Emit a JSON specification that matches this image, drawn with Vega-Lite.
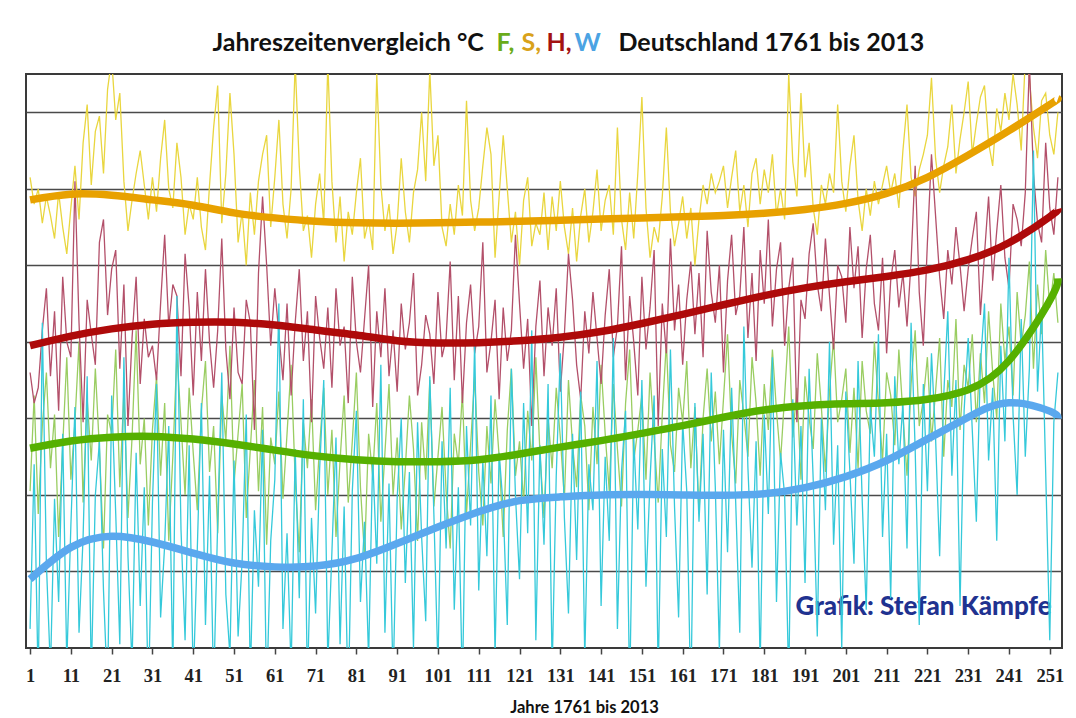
{
"$schema": "https://vega.github.io/schema/vega-lite/v6.json",
"width": 1036, "height": 574,
"autosize": {"type": "none"},
"padding": {"left": 26, "top": 74, "right": 14, "bottom": 70},
"background": "white",
"config": {"view": {"stroke": "#3a3a3a", "strokeWidth": 2}},
"resolve": {"axis": {"x": "independent", "y": "independent"}},
"datasets": {
"jahre": [
{"j":1,"F":2.1,"S":10.3,"H":5.2,"W":-1.5},{"j":2,"F":4.6,"S":9.6,"H":4.4,"W":2.8},{"j":3,"F":1.5,"S":10.0,"H":4.8,"W":-3.0},{"j":4,"F":3.8,"S":9.1,"H":6.3,"W":6.5},{"j":5,"F":5.2,"S":9.8,"H":7.4,"W":0.2},{"j":6,"F":2.7,"S":9.3,"H":5.1,"W":-2.6},{"j":7,"F":4.1,"S":8.7,"H":6.8,"W":1.9},{"j":8,"F":0.9,"S":9.9,"H":4.2,"W":-0.8},{"j":9,"F":3.3,"S":9.0,"H":7.7,"W":3.6},{"j":10,"F":5.6,"S":8.3,"H":6.0,"W":-2.4},
{"j":11,"F":2.4,"S":9.5,"H":5.6,"W":1.2},{"j":12,"F":3.9,"S":10.6,"H":10.2,"W":4.3},{"j":13,"F":6.0,"S":9.2,"H":6.5,"W":-1.6},{"j":14,"F":1.8,"S":11.2,"H":3.9,"W":0.9},{"j":15,"F":4.5,"S":12.2,"H":7.1,"W":5.1},{"j":16,"F":2.9,"S":10.1,"H":6.2,"W":-2.8},{"j":17,"F":5.3,"S":11.5,"H":5.4,"W":2.0},{"j":18,"F":3.2,"S":11.9,"H":8.6,"W":3.4},{"j":19,"F":0.6,"S":10.4,"H":9.2,"W":-0.5},{"j":20,"F":4.1,"S":12.6,"H":6.7,"W":-3.2},
{"j":21,"F":3.6,"S":13.4,"H":7.9,"W":4.6},{"j":22,"F":5.8,"S":11.8,"H":8.4,"W":1.5},{"j":23,"F":2.2,"S":12.5,"H":5.3,"W":-1.9},{"j":24,"F":4.7,"S":10.2,"H":7.5,"W":5.6},{"j":25,"F":1.4,"S":8.9,"H":3.8,"W":0.4},{"j":26,"F":3.5,"S":9.7,"H":6.1,"W":-2.5},{"j":27,"F":6.3,"S":10.4,"H":7.7,"W":3.1},{"j":28,"F":2.8,"S":11.0,"H":4.9,"W":-0.9},{"j":29,"F":4.0,"S":10.1,"H":6.6,"W":2.2},{"j":30,"F":1.2,"S":9.2,"H":5.6,"W":-3.4},
{"j":31,"F":3.7,"S":10.3,"H":5.9,"W":1.8},{"j":32,"F":5.1,"S":9.4,"H":5.0,"W":4.9},{"j":33,"F":2.5,"S":10.8,"H":7.0,"W":-1.2},{"j":34,"F":4.4,"S":11.8,"H":8.8,"W":0.7},{"j":35,"F":0.8,"S":10.0,"H":6.4,"W":3.8},{"j":36,"F":3.0,"S":9.5,"H":7.5,"W":-2.7},{"j":37,"F":5.7,"S":11.2,"H":7.2,"W":7.2},{"j":38,"F":3.9,"S":10.3,"H":5.1,"W":1.1},{"j":39,"F":2.0,"S":8.8,"H":8.3,"W":-1.8},{"j":40,"F":4.8,"S":9.6,"H":6.9,"W":3.3},
{"j":41,"F":3.1,"S":9.2,"H":4.6,"W":-2.9},{"j":42,"F":1.6,"S":10.3,"H":7.3,"W":0.6},{"j":43,"F":4.2,"S":9.0,"H":5.5,"W":4.4},{"j":44,"F":5.5,"S":8.4,"H":7.9,"W":-1.4},{"j":45,"F":2.6,"S":10.1,"H":6.0,"W":2.5},{"j":46,"F":3.8,"S":11.6,"H":4.8,"W":-3.1},{"j":47,"F":1.0,"S":12.7,"H":6.3,"W":1.3},{"j":48,"F":4.6,"S":9.1,"H":8.7,"W":5.2},{"j":49,"F":3.4,"S":10.4,"H":5.8,"W":-0.6},{"j":50,"F":5.9,"S":12.5,"H":4.5,"W":-2.2},
{"j":51,"F":2.3,"S":10.9,"H":6.9,"W":2.9},{"j":52,"F":3.6,"S":8.6,"H":5.2,"W":-1.7},{"j":53,"F":4.9,"S":9.4,"H":4.9,"W":0.3},{"j":54,"F":1.4,"S":8.0,"H":7.1,"W":4.1},{"j":55,"F":3.2,"S":9.9,"H":6.5,"W":-2.8},{"j":56,"F":5.0,"S":8.8,"H":3.7,"W":1.6},{"j":57,"F":2.1,"S":10.2,"H":7.8,"W":-0.4},{"j":58,"F":4.3,"S":10.9,"H":9.8,"W":3.7},{"j":59,"F":0.7,"S":11.4,"H":8.0,"W":-3.3},{"j":60,"F":3.5,"S":9.0,"H":5.9,"W":0.8},
{"j":61,"F":2.8,"S":10.3,"H":7.4,"W":2.4},{"j":62,"F":4.7,"S":11.8,"H":6.2,"W":7.0},{"j":63,"F":1.9,"S":9.6,"H":5.0,"W":-1.5},{"j":64,"F":3.6,"S":8.7,"H":7.0,"W":1.0},{"j":65,"F":5.4,"S":10.0,"H":4.6,"W":-2.6},{"j":66,"F":2.4,"S":13.3,"H":6.5,"W":3.2},{"j":67,"F":0.5,"S":10.6,"H":7.9,"W":-0.7},{"j":68,"F":3.9,"S":8.9,"H":5.5,"W":4.5},{"j":69,"F":2.7,"S":9.3,"H":6.8,"W":-3.0},{"j":70,"F":4.5,"S":8.2,"H":3.9,"W":1.4},
{"j":71,"F":1.6,"S":9.6,"H":7.2,"W":-1.1},{"j":72,"F":3.3,"S":10.4,"H":6.1,"W":2.7},{"j":73,"F":4.8,"S":9.1,"H":5.3,"W":5.0},{"j":74,"F":2.0,"S":13.3,"H":6.9,"W":-2.4},{"j":75,"F":3.7,"S":10.2,"H":4.8,"W":0.5},{"j":76,"F":0.9,"S":8.6,"H":7.4,"W":3.5},{"j":77,"F":2.9,"S":9.8,"H":5.9,"W":-1.9},{"j":78,"F":4.6,"S":8.1,"H":6.4,"W":1.7},{"j":79,"F":1.8,"S":9.4,"H":4.4,"W":-3.5},{"j":80,"F":3.4,"S":8.8,"H":7.7,"W":2.1},
{"j":81,"F":5.2,"S":9.9,"H":6.0,"W":4.2},{"j":82,"F":2.2,"S":10.8,"H":5.2,"W":-0.8},{"j":83,"F":0.4,"S":8.7,"H":6.6,"W":1.3},{"j":84,"F":3.6,"S":9.2,"H":8.0,"W":-2.3},{"j":85,"F":2.5,"S":8.4,"H":4.3,"W":3.0},{"j":86,"F":4.4,"S":13.0,"H":6.8,"W":0.2},{"j":87,"F":1.3,"S":10.1,"H":5.6,"W":5.4},{"j":88,"F":3.1,"S":8.9,"H":7.4,"W":-1.6},{"j":89,"F":4.9,"S":9.6,"H":5.1,"W":2.3},{"j":90,"F":2.0,"S":8.3,"H":6.3,"W":-2.9},
{"j":91,"F":3.5,"S":9.1,"H":4.7,"W":1.9},{"j":92,"F":1.1,"S":10.8,"H":7.0,"W":4.0},{"j":93,"F":2.7,"S":9.4,"H":5.8,"W":-0.3},{"j":94,"F":4.6,"S":8.6,"H":6.5,"W":2.6},{"j":95,"F":3.2,"S":9.9,"H":7.8,"W":-2.0},{"j":96,"F":0.8,"S":10.5,"H":4.6,"W":3.9},{"j":97,"F":3.9,"S":12.0,"H":5.4,"W":0.9},{"j":98,"F":2.4,"S":10.2,"H":6.7,"W":-1.3},{"j":99,"F":5.0,"S":13.1,"H":6.2,"W":5.1},{"j":100,"F":1.7,"S":10.6,"H":4.9,"W":1.5},
{"j":101,"F":3.0,"S":11.4,"H":7.3,"W":-2.5},{"j":102,"F":4.3,"S":9.0,"H":5.6,"W":3.4},{"j":103,"F":2.1,"S":8.5,"H":6.1,"W":0.6},{"j":104,"F":0.6,"S":9.6,"H":8.1,"W":4.8},{"j":105,"F":3.6,"S":8.8,"H":5.0,"W":-1.0},{"j":106,"F":2.8,"S":10.1,"H":7.2,"W":2.2},{"j":107,"F":4.7,"S":9.3,"H":4.4,"W":-3.1},{"j":108,"F":1.5,"S":12.3,"H":6.5,"W":3.8},{"j":109,"F":3.3,"S":9.7,"H":7.5,"W":1.2},{"j":110,"F":5.1,"S":8.9,"H":5.7,"W":6.0},
{"j":111,"F":2.6,"S":9.5,"H":6.4,"W":-0.5},{"j":112,"F":1.2,"S":10.6,"H":8.6,"W":2.9},{"j":113,"F":3.8,"S":11.6,"H":5.2,"W":0.4},{"j":114,"F":2.3,"S":10.9,"H":6.0,"W":4.6},{"j":115,"F":4.5,"S":8.2,"H":7.1,"W":-2.2},{"j":116,"F":3.0,"S":9.8,"H":4.5,"W":3.1},{"j":117,"F":0.9,"S":11.4,"H":6.9,"W":1.7},{"j":118,"F":3.7,"S":10.0,"H":5.5,"W":-1.4},{"j":119,"F":5.3,"S":8.6,"H":6.3,"W":5.3},{"j":120,"F":2.5,"S":9.4,"H":8.8,"W":2.0},
{"j":121,"F":3.4,"S":8.0,"H":7.0,"W":-0.2},{"j":122,"F":1.8,"S":9.7,"H":5.3,"W":4.4},{"j":123,"F":4.2,"S":10.3,"H":6.6,"W":1.0},{"j":124,"F":2.9,"S":8.5,"H":3.8,"W":6.3},{"j":125,"F":5.6,"S":9.1,"H":6.4,"W":-1.8},{"j":126,"F":3.1,"S":8.8,"H":7.6,"W":3.3},{"j":127,"F":1.4,"S":9.9,"H":5.1,"W":0.7},{"j":128,"F":4.0,"S":8.4,"H":6.9,"W":4.9},{"j":129,"F":2.7,"S":9.8,"H":5.9,"W":-2.6},{"j":130,"F":4.8,"S":8.9,"H":7.4,"W":2.5},
{"j":131,"F":3.5,"S":10.2,"H":4.7,"W":5.7},{"j":132,"F":1.9,"S":9.0,"H":6.2,"W":1.4},{"j":133,"F":5.0,"S":8.3,"H":8.3,"W":-1.1},{"j":134,"F":3.3,"S":9.5,"H":7.1,"W":3.6},{"j":135,"F":2.2,"S":8.1,"H":5.4,"W":0.3},{"j":136,"F":4.6,"S":9.3,"H":4.5,"W":4.7},{"j":137,"F":3.8,"S":10.0,"H":6.8,"W":-2.3},{"j":138,"F":1.6,"S":8.6,"H":5.7,"W":2.8},{"j":139,"F":4.3,"S":9.4,"H":7.3,"W":1.6},{"j":140,"F":2.8,"S":10.5,"H":6.1,"W":5.5},
{"j":141,"F":5.4,"S":8.9,"H":4.9,"W":-0.9},{"j":142,"F":3.6,"S":9.7,"H":6.7,"W":3.0},{"j":143,"F":2.1,"S":10.1,"H":7.9,"W":0.8},{"j":144,"F":4.9,"S":8.8,"H":5.6,"W":6.1},{"j":145,"F":3.2,"S":11.6,"H":6.4,"W":-1.5},{"j":146,"F":1.7,"S":9.2,"H":8.5,"W":2.6},{"j":147,"F":4.4,"S":8.4,"H":5.0,"W":4.2},{"j":148,"F":5.8,"S":9.9,"H":7.2,"W":-3.2},{"j":149,"F":2.9,"S":8.7,"H":6.0,"W":3.5},{"j":150,"F":3.7,"S":10.4,"H":4.6,"W":1.1},
{"j":151,"F":4.6,"S":12.4,"H":7.7,"W":5.0},{"j":152,"F":2.4,"S":9.5,"H":5.8,"W":-0.4},{"j":153,"F":5.2,"S":8.2,"H":6.9,"W":2.4},{"j":154,"F":3.5,"S":9.0,"H":8.4,"W":4.6},{"j":155,"F":1.8,"S":8.6,"H":3.8,"W":-2.7},{"j":156,"F":4.1,"S":9.8,"H":7.0,"W":3.2},{"j":157,"F":6.0,"S":11.6,"H":5.7,"W":0.9},{"j":158,"F":3.3,"S":9.4,"H":8.7,"W":5.8},{"j":159,"F":2.6,"S":8.5,"H":6.3,"W":1.7},{"j":160,"F":4.8,"S":9.1,"H":7.5,"W":-1.2},
{"j":161,"F":3.9,"S":9.8,"H":5.4,"W":3.9},{"j":162,"F":5.5,"S":8.7,"H":7.1,"W":2.1},{"j":163,"F":2.7,"S":9.5,"H":8.1,"W":-3.4},{"j":164,"F":4.3,"S":8.0,"H":6.2,"W":4.4},{"j":165,"F":1.5,"S":9.2,"H":7.8,"W":1.3},{"j":166,"F":4.0,"S":10.1,"H":5.6,"W":3.6},{"j":167,"F":5.3,"S":9.6,"H":8.9,"W":-0.6},{"j":168,"F":3.4,"S":10.4,"H":7.3,"W":5.2},{"j":169,"F":4.7,"S":9.9,"H":6.5,"W":2.2},{"j":170,"F":2.8,"S":10.2,"H":8.0,"W":-2.1},
{"j":171,"F":4.5,"S":10.6,"H":5.2,"W":3.7},{"j":172,"F":6.2,"S":9.5,"H":7.6,"W":0.5},{"j":173,"F":3.6,"S":10.3,"H":8.8,"W":4.8},{"j":174,"F":2.3,"S":11.0,"H":6.7,"W":1.8},{"j":175,"F":5.0,"S":9.4,"H":7.2,"W":-1.6},{"j":176,"F":4.1,"S":10.1,"H":9.0,"W":6.4},{"j":177,"F":3.0,"S":9.0,"H":6.1,"W":2.7},{"j":178,"F":5.6,"S":10.4,"H":7.8,"W":0.1},{"j":179,"F":4.4,"S":10.8,"H":5.5,"W":3.4},{"j":180,"F":2.5,"S":9.6,"H":8.4,"W":-2.5},
{"j":181,"F":4.9,"S":10.5,"H":7.0,"W":4.1},{"j":182,"F":3.7,"S":9.9,"H":9.2,"W":1.5},{"j":183,"F":5.8,"S":10.9,"H":6.4,"W":5.6},{"j":184,"F":4.2,"S":9.3,"H":7.9,"W":-0.8},{"j":185,"F":2.9,"S":10.0,"H":8.6,"W":3.1},{"j":186,"F":4.6,"S":9.2,"H":5.9,"W":2.0},{"j":187,"F":6.4,"S":13.0,"H":7.4,"W":-2.9},{"j":188,"F":3.5,"S":10.7,"H":8.2,"W":4.5},{"j":189,"F":4.8,"S":9.8,"H":3.9,"W":1.2},{"j":190,"F":2.4,"S":12.5,"H":7.1,"W":3.8},
{"j":191,"F":5.1,"S":10.3,"H":6.6,"W":-0.3},{"j":192,"F":4.0,"S":11.2,"H":8.3,"W":5.3},{"j":193,"F":3.2,"S":9.5,"H":9.1,"W":2.4},{"j":194,"F":5.7,"S":8.8,"H":7.5,"W":-1.7},{"j":195,"F":4.3,"S":10.1,"H":6.8,"W":4.0},{"j":196,"F":2.6,"S":9.6,"H":8.7,"W":1.6},{"j":197,"F":4.7,"S":10.4,"H":7.2,"W":6.0},{"j":198,"F":6.1,"S":9.9,"H":5.8,"W":0.7},{"j":199,"F":3.9,"S":12.2,"H":8.0,"W":3.3},{"j":200,"F":4.5,"S":10.2,"H":7.7,"W":-2.0},
{"j":201,"F":5.3,"S":9.4,"H":6.5,"W":4.7},{"j":202,"F":3.1,"S":10.6,"H":9.0,"W":2.6},{"j":203,"F":4.8,"S":11.4,"H":7.4,"W":0.2},{"j":204,"F":2.7,"S":9.7,"H":8.5,"W":5.5},{"j":205,"F":5.5,"S":8.9,"H":6.1,"W":1.9},{"j":206,"F":4.2,"S":10.0,"H":7.9,"W":-1.0},{"j":207,"F":3.6,"S":9.3,"H":8.8,"W":4.3},{"j":208,"F":6.0,"S":10.2,"H":7.0,"W":3.0},{"j":209,"F":4.4,"S":9.6,"H":6.3,"W":6.2},{"j":210,"F":2.9,"S":10.1,"H":8.2,"W":0.9},
{"j":211,"F":5.2,"S":10.6,"H":5.7,"W":3.6},{"j":212,"F":4.6,"S":9.9,"H":7.6,"W":-0.7},{"j":213,"F":3.3,"S":10.4,"H":8.4,"W":5.1},{"j":214,"F":5.8,"S":9.5,"H":6.9,"W":2.8},{"j":215,"F":4.1,"S":11.0,"H":7.8,"W":4.4},{"j":216,"F":2.5,"S":12.2,"H":6.4,"W":0.6},{"j":217,"F":4.9,"S":10.3,"H":8.1,"W":6.5},{"j":218,"F":6.3,"S":9.8,"H":10.6,"W":3.2},{"j":219,"F":3.8,"S":10.5,"H":7.3,"W":-1.4},{"j":220,"F":4.5,"S":10.9,"H":5.9,"W":4.9},
{"j":221,"F":5.6,"S":11.4,"H":8.6,"W":2.1},{"j":222,"F":3.4,"S":12.9,"H":10.9,"W":5.7},{"j":223,"F":4.7,"S":10.8,"H":9.3,"W":3.5},{"j":224,"F":6.1,"S":9.9,"H":7.7,"W":0.4},{"j":225,"F":3.0,"S":10.6,"H":6.6,"W":4.6},{"j":226,"F":5.0,"S":11.1,"H":8.4,"W":6.8},{"j":227,"F":4.3,"S":12.2,"H":7.5,"W":2.5},{"j":228,"F":6.6,"S":10.4,"H":9.0,"W":5.0},{"j":229,"F":3.7,"S":11.3,"H":8.0,"W":-0.9},{"j":230,"F":5.4,"S":12.0,"H":6.8,"W":4.2},
{"j":231,"F":4.8,"S":12.8,"H":7.9,"W":6.1},{"j":232,"F":6.2,"S":10.9,"H":8.7,"W":3.7},{"j":233,"F":3.9,"S":11.7,"H":9.4,"W":1.3},{"j":234,"F":5.7,"S":12.4,"H":6.7,"W":5.4},{"j":235,"F":4.4,"S":12.7,"H":8.3,"W":7.0},{"j":236,"F":6.8,"S":11.2,"H":9.8,"W":2.9},{"j":237,"F":5.2,"S":10.6,"H":7.6,"W":4.8},{"j":238,"F":4.0,"S":12.1,"H":8.9,"W":0.8},{"j":239,"F":7.0,"S":11.5,"H":10.1,"W":5.9},{"j":240,"F":5.5,"S":12.5,"H":8.2,"W":3.4},
{"j":241,"F":6.4,"S":11.8,"H":7.4,"W":8.2},{"j":242,"F":4.6,"S":13.0,"H":9.6,"W":4.1},{"j":243,"F":7.3,"S":12.2,"H":9.2,"W":2.0},{"j":244,"F":5.9,"S":11.0,"H":8.5,"W":6.6},{"j":245,"F":6.7,"S":13.4,"H":9.9,"W":3.0},{"j":246,"F":8.1,"S":12.9,"H":13.3,"W":5.3},{"j":247,"F":5.3,"S":11.6,"H":10.4,"W":11.0},{"j":248,"F":7.5,"S":10.8,"H":9.1,"W":4.7},{"j":249,"F":6.2,"S":12.3,"H":8.6,"W":6.9},{"j":250,"F":8.4,"S":12.5,"H":11.2,"W":2.6},
{"j":251,"F":6.9,"S":11.4,"H":9.5,"W":-1.8},{"j":252,"F":7.8,"S":10.9,"H":8.8,"W":3.9},{"j":253,"F":6.5,"S":12.0,"H":10.3,"W":5.2}
],
"trend": [
{"j":1,"F":3.22,"S":9.71,"H":5.90,"W":-0.20},{"j":11,"F":3.41,"S":9.86,"H":6.15,"W":0.63},{"j":21,"F":3.51,"S":9.83,"H":6.34,"W":0.92},{"j":31,"F":3.53,"S":9.71,"H":6.46,"W":0.77},{"j":41,"F":3.46,"S":9.57,"H":6.51,"W":0.48},{"j":51,"F":3.33,"S":9.37,"H":6.51,"W":0.22},{"j":61,"F":3.17,"S":9.24,"H":6.44,"W":0.12},{"j":71,"F":3.02,"S":9.15,"H":6.31,"W":0.14},{"j":81,"F":2.92,"S":9.11,"H":6.18,"W":0.34},{"j":91,"F":2.87,"S":9.10,"H":6.03,"W":0.73},{"j":101,"F":2.87,"S":9.11,"H":5.97,"W":1.16},{"j":111,"F":2.92,"S":9.13,"H":5.98,"W":1.56},{"j":121,"F":3.07,"S":9.15,"H":6.03,"W":1.85},{"j":131,"F":3.25,"S":9.18,"H":6.12,"W":1.95},{"j":141,"F":3.42,"S":9.21,"H":6.27,"W":2.00},{"j":151,"F":3.61,"S":9.24,"H":6.48,"W":2.01},{"j":161,"F":3.81,"S":9.27,"H":6.72,"W":2.00},{"j":171,"F":4.03,"S":9.30,"H":6.97,"W":1.99},{"j":181,"F":4.22,"S":9.36,"H":7.21,"W":2.03},{"j":191,"F":4.33,"S":9.46,"H":7.41,"W":2.19},{"j":201,"F":4.38,"S":9.62,"H":7.57,"W":2.48},{"j":211,"F":4.41,"S":9.88,"H":7.71,"W":2.90},{"j":221,"F":4.50,"S":10.30,"H":7.88,"W":3.46},{"j":231,"F":4.75,"S":10.88,"H":8.15,"W":4.03},{"j":241,"F":5.51,"S":11.52,"H":8.59,"W":4.41},{"j":251,"F":7.08,"S":12.20,"H":9.27,"W":4.19},{"j":253,"F":7.66,"S":12.35,"H":9.47,"W":4.00}
]
},
"layer": [
{
"data": {"name": "jahre"},
"transform": [{"fold": ["S", "F", "H", "W"], "as": ["saison", "temp"]}],
"mark": {"type": "line", "strokeWidth": 1.3, "clip": true},
"encoding": {
"x": {"field": "j", "type": "quantitative", "scale": {"domain": [0, 254], "nice": false, "zero": false},
 "axis": {"orient": "bottom", "values": [1,11,21,31,41,51,61,71,81,91,101,111,121,131,141,151,161,171,181,191,201,211,221,231,241,251], "grid": false, "domain": false, "ticks": true, "tickSize": 6, "tickColor": "#444", "tickWidth": 1.5, "labelFont": "Liberation Serif", "labelFontWeight": "bold", "labelFontSize": 18.5, "labelColor": "#222", "labelPadding": 12, "labelFlush": false, "labelOverlap": false,
  "title": "Jahre 1761 bis 2013", "titleFont": "Lato", "titleFontSize": 16.5, "titleFontWeight": "bold", "titleColor": "#111", "titleX": 558, "titleY": 59, "titleAlign": "center", "titleBaseline": "middle"}},
"y": {"field": "temp", "type": "quantitative", "scale": {"domain": [-2, 13], "nice": false, "zero": false},
 "axis": {"orient": "left", "values": [0,2,4,6,8,10,12], "grid": true, "gridColor": "#4a4a4a", "gridWidth": 1.3, "labels": false, "ticks": false, "domain": false,
  "title": "Jahreszeitenvergleich °C", "titleAngle": 0, "titleAlign": "left", "titleBaseline": "alphabetic", "titleX": 186, "titleY": -24, "titleFont": "Lato", "titleFontSize": 25, "titleFontWeight": "bold", "titleColor": "#111"}},
"color": {"field": "saison", "type": "nominal", "scale": {"domain": ["S", "F", "H", "W"], "range": ["#E9D63F", "#9ACD62", "#B3506A", "#35C9DA"]}, "legend": null}
}
},
{
"data": {"name": "trend"},
"mark": {"type": "line", "strokeWidth": 7.5, "color": "#5AA8EE", "interpolate": "natural"},
"encoding": {
"x": {"field": "j", "type": "quantitative", "scale": {"domain": [0, 254], "nice": false, "zero": false},
 "axis": {"orient": "top", "labels": false, "ticks": false, "domain": false, "grid": false, "title": "W", "titleColor": "#4BA3E3", "titleFont": "Lato", "titleFontSize": 25, "titleFontWeight": "bold", "titleAlign": "left", "titleBaseline": "alphabetic", "titleX": 548, "titleY": -24}},
"y": {"field": "W", "type": "quantitative", "scale": {"domain": [-2, 13], "nice": false, "zero": false}, "axis": null}
}
},
{
"data": {"name": "trend"},
"mark": {"type": "line", "strokeWidth": 7.5, "color": "#56B000", "interpolate": "natural"},
"encoding": {
"x": {"field": "j", "type": "quantitative", "scale": {"domain": [0, 254], "nice": false, "zero": false},
 "axis": {"orient": "top", "labels": false, "ticks": false, "domain": false, "grid": false, "title": "F,", "titleColor": "#6AAB1A", "titleFont": "Lato", "titleFontSize": 25, "titleFontWeight": "bold", "titleAlign": "left", "titleBaseline": "alphabetic", "titleX": 470, "titleY": -24}},
"y": {"field": "F", "type": "quantitative", "scale": {"domain": [-2, 13], "nice": false, "zero": false},
 "axis": {"orient": "right", "labels": false, "ticks": false, "domain": false, "grid": false, "title": "Deutschland 1761 bis 2013", "titleAngle": 0, "titleColor": "#111", "titleFont": "Lato", "titleFontSize": 25, "titleFontWeight": "bold", "titleAlign": "left", "titleBaseline": "alphabetic", "titleX": -444, "titleY": -24}}
}
},
{
"data": {"name": "trend"},
"mark": {"type": "line", "strokeWidth": 7.5, "color": "#AE0A0A", "interpolate": "natural"},
"encoding": {
"x": {"field": "j", "type": "quantitative", "scale": {"domain": [0, 254], "nice": false, "zero": false},
 "axis": {"orient": "top", "labels": false, "ticks": false, "domain": false, "grid": false, "title": "H,", "titleColor": "#A31212", "titleFont": "Lato", "titleFontSize": 25, "titleFontWeight": "bold", "titleAlign": "left", "titleBaseline": "alphabetic", "titleX": 520, "titleY": -24}},
"y": {"field": "H", "type": "quantitative", "scale": {"domain": [-2, 13], "nice": false, "zero": false}, "axis": null}
}
},
{
"data": {"name": "trend"},
"mark": {"type": "line", "strokeWidth": 7.5, "color": "#E8A100", "interpolate": "natural"},
"encoding": {
"x": {"field": "j", "type": "quantitative", "scale": {"domain": [0, 254], "nice": false, "zero": false},
 "axis": {"orient": "top", "labels": false, "ticks": false, "domain": false, "grid": false, "title": "S,", "titleColor": "#D9A21A", "titleFont": "Lato", "titleFontSize": 25, "titleFontWeight": "bold", "titleAlign": "left", "titleBaseline": "alphabetic", "titleX": 495, "titleY": -24}},
"y": {"field": "S", "type": "quantitative", "scale": {"domain": [-2, 13], "nice": false, "zero": false},
 "axis": {"orient": "right", "labels": false, "ticks": false, "domain": false, "grid": false, "title": "Grafik: Stefan Kämpfe", "titleAngle": 0, "titleColor": "#1F3290", "titleFont": "Lato", "titleFontSize": 26, "titleFontWeight": 900, "titleAlign": "left", "titleBaseline": "middle", "titleX": -267, "titleY": 532}}
}
}
]
}
